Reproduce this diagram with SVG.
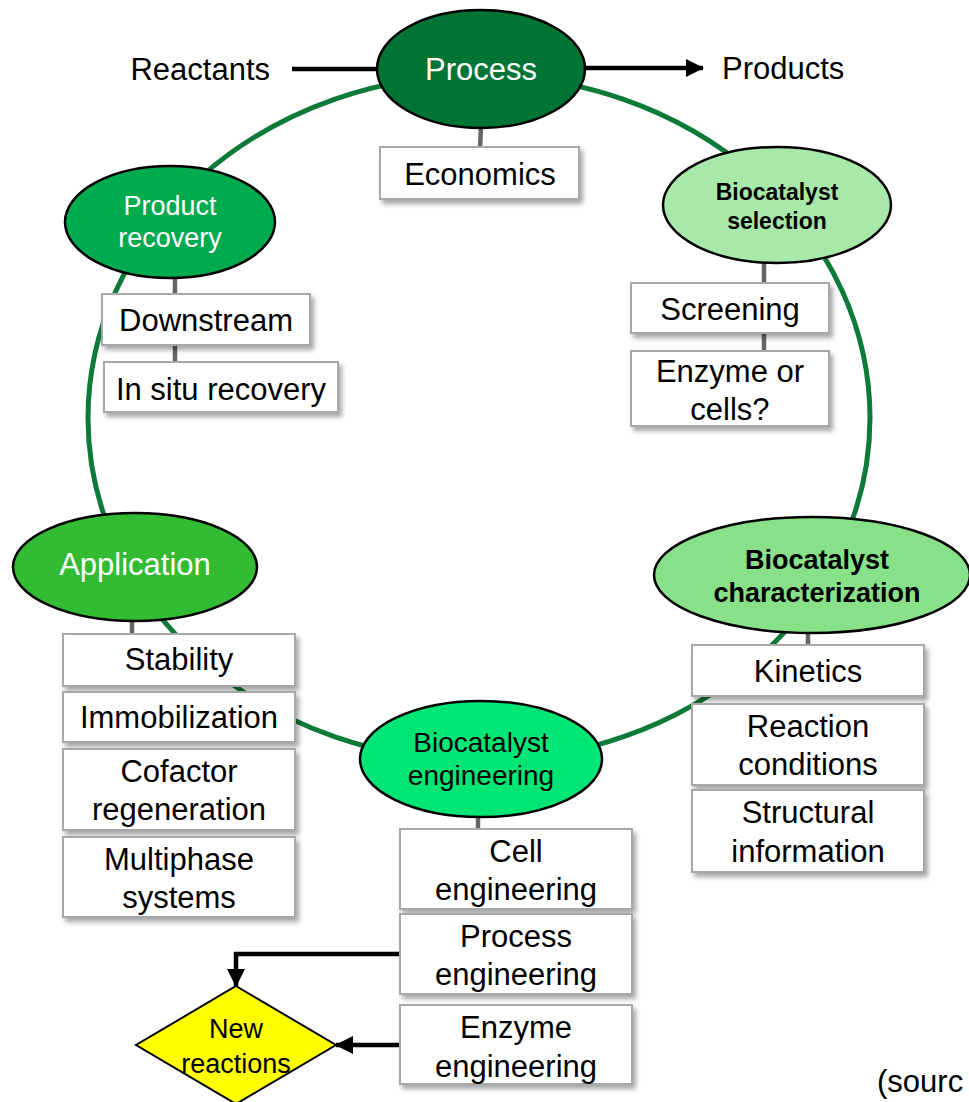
<svg xmlns="http://www.w3.org/2000/svg" width="969" height="1102" viewBox="0 0 969 1102">
<defs>
<filter id="sh" x="-10%" y="-10%" width="130%" height="140%">
<feDropShadow dx="3" dy="4" stdDeviation="2.5" flood-color="#000" flood-opacity="0.35"/>
</filter>
<marker id="ah" markerUnits="userSpaceOnUse" markerWidth="18" markerHeight="18" viewBox="0 0 18 18" refX="17" refY="9" orient="auto">
<path d="M0,0 L18,9 L0,18 Z" fill="#000"/>
</marker>
</defs>
<style>
text{font-family:"Liberation Sans",Arial,sans-serif;text-anchor:middle;fill:#000}
.t{font-size:31px}
.w{fill:#fff}
.b{font-weight:bold}
.box{fill:#fff;stroke:#a8a8a8;stroke-width:2;filter:url(#sh)}
.ell{stroke:#000;stroke-width:2.5}
.con{stroke:#666;stroke-width:4.5;fill:none}
.arr{stroke:#000;stroke-width:4.5;fill:none}
</style>
<rect width="969" height="1102" fill="#fff"/>
<g id="cycle">
<ellipse cx="479" cy="418" rx="391" ry="343" fill="none" stroke="#0e7a3a" stroke-width="5"/>
</g>
<g id="connectors">
<line class="arr" x1="292" y1="69" x2="378" y2="69"/>
<line class="arr" x1="585" y1="68" x2="703" y2="68" marker-end="url(#ah)"/>
<path class="arr" d="M400,954 H236 V986" marker-end="url(#ah)"/>
<line class="arr" x1="400" y1="1045" x2="336" y2="1045" marker-end="url(#ah)"/>
<line class="con" x1="481" y1="127" x2="480" y2="148"/>
<line class="con" x1="764" y1="262" x2="764" y2="284"/>
<line class="con" x1="764" y1="333" x2="764" y2="352"/>
<line class="con" x1="175" y1="277" x2="175" y2="295"/>
<line class="con" x1="175" y1="345" x2="175" y2="363"/>
<line class="con" x1="808" y1="632" x2="808" y2="646"/>
<line class="con" x1="132" y1="620" x2="132" y2="635"/>
<line class="con" x1="478" y1="816" x2="478" y2="830"/>
</g>
<g id="reactants"><text class="t" x="270" y="80" style="text-anchor:end">Reactants</text></g>
<g id="products"><text class="t" x="722" y="79" style="text-anchor:start">Products</text></g>
<g id="process">
<ellipse class="ell" cx="481" cy="69" rx="104" ry="59" fill="#007434"/>
<text class="t w" x="481" y="80">Process</text>
</g>
<g id="economics">
<rect class="box" x="380" y="147" width="199" height="52"/>
<text class="t" x="480" y="185">Economics</text>
</g>
<g id="biocatalyst-selection">
<ellipse class="ell" cx="777" cy="205" rx="114" ry="58" fill="#a8e8a8"/>
<text class="b" x="777" y="200" font-size="23">Biocatalyst</text>
<text class="b" x="777" y="229" font-size="23">selection</text>
</g>
<g id="screening">
<rect class="box" x="631" y="283" width="198" height="50"/>
<text class="t" x="730" y="320">Screening</text>
</g>
<g id="enzyme-or-cells">
<rect class="box" x="631" y="351" width="198" height="75"/>
<text class="t" x="730" y="382">Enzyme or</text>
<text class="t" x="730" y="420">cells?</text>
</g>
<g id="product-recovery">
<ellipse class="ell" cx="170" cy="222" rx="105" ry="56" fill="#00aa4f"/>
<text class="w" x="170" y="215" font-size="27">Product</text>
<text class="w" x="170" y="247" font-size="27">recovery</text>
</g>
<g id="downstream">
<rect class="box" x="102" y="294" width="208" height="51"/>
<text class="t" x="206" y="331">Downstream</text>
</g>
<g id="in-situ-recovery">
<rect class="box" x="104" y="362" width="234" height="50"/>
<text class="t" x="221" y="400">In situ recovery</text>
</g>
<g id="biocatalyst-characterization">
<ellipse class="ell" cx="812" cy="575" rx="158" ry="58" fill="#88e088"/>
<text class="b" x="817" y="569" font-size="27">Biocatalyst</text>
<text class="b" x="817" y="602" font-size="27">characterization</text>
</g>
<g id="kinetics">
<rect class="box" x="692" y="645" width="232" height="51"/>
<text class="t" x="808" y="682">Kinetics</text>
</g>
<g id="reaction-conditions">
<rect class="box" x="692" y="704" width="232" height="81"/>
<text class="t" x="808" y="737">Reaction</text>
<text class="t" x="808" y="775">conditions</text>
</g>
<g id="structural-information">
<rect class="box" x="692" y="790" width="232" height="82"/>
<text class="t" x="808" y="823">Structural</text>
<text class="t" x="808" y="862">information</text>
</g>
<g id="application">
<ellipse class="ell" cx="135" cy="567" rx="122" ry="54" fill="#33bb33"/>
<text class="t w" x="135" y="575">Application</text>
</g>
<g id="stability">
<rect class="box" x="63" y="634" width="232" height="52"/>
<text class="t" x="179" y="670">Stability</text>
</g>
<g id="immobilization">
<rect class="box" x="63" y="692" width="232" height="50"/>
<text class="t" x="179" y="728">Immobilization</text>
</g>
<g id="cofactor-regeneration">
<rect class="box" x="63" y="749" width="232" height="81"/>
<text class="t" x="179" y="782">Cofactor</text>
<text class="t" x="179" y="820">regeneration</text>
</g>
<g id="multiphase-systems">
<rect class="box" x="63" y="837" width="232" height="80"/>
<text class="t" x="179" y="870">Multiphase</text>
<text class="t" x="179" y="908">systems</text>
</g>
<g id="biocatalyst-engineering">
<ellipse class="ell" cx="481" cy="759" rx="121" ry="58" fill="#00e676"/>
<text x="481" y="752" font-size="28">Biocatalyst</text>
<text x="481" y="785" font-size="28">engineering</text>
</g>
<g id="cell-engineering">
<rect class="box" x="400" y="829" width="232" height="80"/>
<text class="t" x="516" y="862">Cell</text>
<text class="t" x="516" y="900">engineering</text>
</g>
<g id="process-engineering">
<rect class="box" x="400" y="914" width="232" height="80"/>
<text class="t" x="516" y="947">Process</text>
<text class="t" x="516" y="985">engineering</text>
</g>
<g id="enzyme-engineering">
<rect class="box" x="400" y="1005" width="232" height="79"/>
<text class="t" x="516" y="1038">Enzyme</text>
<text class="t" x="516" y="1077">engineering</text>
</g>
<g id="new-reactions">
<polygon points="236,986 336,1045 236,1104 136,1045" fill="#ffff00" stroke="#000" stroke-width="2"/>
<text x="236" y="1038" font-size="27">New</text>
<text x="236" y="1073" font-size="27">reactions</text>
</g>
<g id="source"><text class="t" x="877" y="1092" style="text-anchor:start">(sourc</text></g>
</svg>
